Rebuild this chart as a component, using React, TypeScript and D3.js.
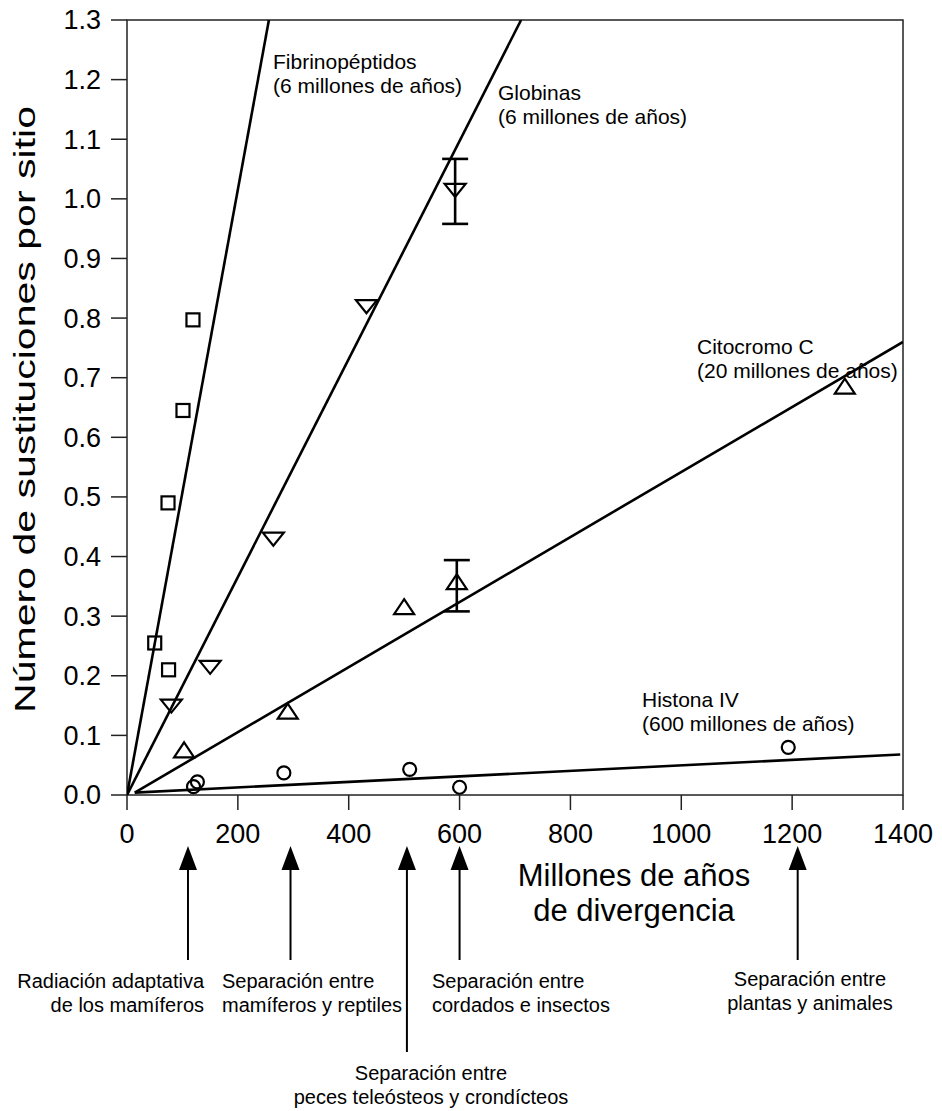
import React from "react";
import * as d3 from "d3";

// Points: [millones de años, sustituciones por sitio]
const fibrinopeptidos: [number, number][] = [
  [50, 0.255],
  [75, 0.21],
  [74, 0.49],
  [101, 0.645],
  [119, 0.797],
];
const globinas: [number, number][] = [
  [80, 0.15],
  [150, 0.215],
  [264, 0.43],
  [432, 0.82],
  [592, 1.015],
];
const citocromo: [number, number][] = [
  [103, 0.075],
  [290, 0.14],
  [500, 0.315],
  [595, 0.357],
  [1295, 0.685],
];
const histona: [number, number][] = [
  [120, 0.014],
  [127, 0.022],
  [283, 0.037],
  [510, 0.043],
  [600, 0.013],
  [1193, 0.08],
];

// error bars: [x, low, high]
const errorBars: [number, number, number][] = [
  [592, 0.958, 1.067],
  [595, 0.308, 0.394],
];

// fitted lines (end points)
const fitLines: [number, number][][] = [
  [[0, 0], [256, 1.3]],
  [[0, 0], [711, 1.3]],
  [[14, 0.004], [1400, 0.76]],
  [[14, 0.004], [1395, 0.068]],
];

const xTicks = [0, 200, 400, 600, 800, 1000, 1200, 1400];
const yTicks = [0, 0.1, 0.2, 0.3, 0.4, 0.5, 0.6, 0.7, 0.8, 0.9, 1.0, 1.1, 1.2, 1.3];

const seriesLabels = [
  ["Fibrinopéptidos", "(6 millones de años)"],
  ["Globinas", "(6 millones de años)"],
  ["Citocromo C", "(20 millones de años)"],
  ["Histona IV", "(600 millones de años)"],
];

const eventX = [110, 295, 505, 600, 1210];
const eventLabels = [
  ["Radiación adaptativa", "de los mamíferos"],
  ["Separación entre", "mamíferos y reptiles"],
  ["Separación entre", "peces teleósteos y crondícteos"],
  ["Separación entre", "cordados e insectos"],
  ["Separación entre", "plantas y animales"],
];

const xTitle = ["Millones de años", "de divergencia"];
const yTitle = "Número de sustituciones por sitio";

const FONT = "'Liberation Sans', Arial, Helvetica, sans-serif";

// layout
const W = 942;
const H = 1111;
const left = 127;
const right = 903;
const top = 20;
const bottom = 795;

// series label placement (px)
const seriesLabelPos = [
  { x: 273, y: 69 },
  { x: 498, y: 100 },
  { x: 697, y: 354 },
  { x: 642, y: 707 },
];
// event label placement
const eventLabelPos = [
  { x: 204, y: 988, anchor: "end" },
  { x: 222, y: 988, anchor: "start" },
  { x: 431, y: 1080, anchor: "middle" },
  { x: 432, y: 988, anchor: "start" },
  { x: 810, y: 986, anchor: "middle" },
];
const eventShaftEnd = [960, 960, 1052, 960, 960];

export default function App() {
  const x = d3.scaleLinear().domain([0, 1400]).range([left, right]);
  const y = d3.scaleLinear().domain([0, 1.3]).range([bottom, top]);
  const line = d3
    .line<[number, number]>()
    .x((d) => x(d[0]))
    .y((d) => y(d[1]));

  const sq = 6.5;
  const lw = 2.6;

  return (
    <svg
      width={W}
      height={H}
      style={{ position: "absolute", left: 0, top: 0, background: "#fff" }}
      fontFamily={FONT}
    >
      <defs>
        <clipPath id="plot">
          <rect x={left} y={top} width={right - left} height={bottom - top} />
        </clipPath>
      </defs>

      {/* frame */}
      <rect
        x={left}
        y={top}
        width={right - left}
        height={bottom - top}
        fill="none"
        stroke="#222"
        strokeWidth={1.5}
      />

      {/* y ticks */}
      {yTicks.map((t) => (
        <g key={"y" + t}>
          <line x1={left - 16} x2={left} y1={y(t)} y2={y(t)} stroke="#222" strokeWidth={1.5} />
          <text x={left - 26} y={y(t)} dy="0.35em" fontSize={27} textAnchor="end">
            {t.toFixed(1)}
          </text>
        </g>
      ))}

      {/* x ticks */}
      {xTicks.map((t) => (
        <g key={"x" + t}>
          <line x1={x(t)} x2={x(t)} y1={bottom} y2={bottom + 15} stroke="#222" strokeWidth={1.5} />
          <text x={x(t)} y={843} fontSize={27} textAnchor="middle">
            {t}
          </text>
        </g>
      ))}

      {/* fitted lines */}
      <g clipPath="url(#plot)">
        {fitLines.map((l, i) => (
          <path key={i} d={line(l) || ""} fill="none" stroke="#000" strokeWidth={lw} />
        ))}
      </g>

      {/* error bars */}
      {errorBars.map(([ex, lo, hi], i) => (
        <g key={"e" + i} stroke="#000" strokeWidth={lw}>
          <line x1={x(ex)} x2={x(ex)} y1={y(lo)} y2={y(hi)} />
          <line x1={x(ex) - 13} x2={x(ex) + 13} y1={y(lo)} y2={y(lo)} />
          <line x1={x(ex) - 13} x2={x(ex) + 13} y1={y(hi)} y2={y(hi)} />
        </g>
      ))}

      {/* markers */}
      <g fill="none" stroke="#000" strokeWidth={2.2}>
        {fibrinopeptidos.map((d, i) => (
          <rect key={"f" + i} x={x(d[0]) - sq} y={y(d[1]) - sq} width={sq * 2} height={sq * 2} />
        ))}
        {globinas.map((d, i) => {
          const cx = x(d[0]);
          const cy = y(d[1]);
          return (
            <path
              key={"g" + i}
              d={`M${cx - 10.5},${cy - 6}L${cx + 10.5},${cy - 6}L${cx},${cy + 7}Z`}
            />
          );
        })}
        {citocromo.map((d, i) => {
          const cx = x(d[0]);
          const cy = y(d[1]);
          return (
            <path
              key={"c" + i}
              d={`M${cx},${cy - 8}L${cx + 10},${cy + 7}L${cx - 10},${cy + 7}Z`}
            />
          );
        })}
        {histona.map((d, i) => (
          <circle key={"h" + i} cx={x(d[0])} cy={y(d[1])} r={6.5} />
        ))}
      </g>

      {/* series labels */}
      {seriesLabels.map((lines, i) => (
        <text key={"s" + i} fontSize={21} fill="#000">
          {lines.map((t, j) => (
            <tspan key={j} x={seriesLabelPos[i].x} y={seriesLabelPos[i].y + j * 24}>
              {t}
            </tspan>
          ))}
        </text>
      ))}

      {/* axis titles */}
      <text fontSize={31} textAnchor="middle">
        {xTitle.map((t, j) => (
          <tspan key={j} x={634} y={886 + j * 35}>
            {t}
          </tspan>
        ))}
      </text>
      <text
        transform={`translate(35,${(bottom + top) / 2 + 2}) rotate(-90)`}
        fontSize={30}
        textAnchor="middle"
        textLength={607}
        lengthAdjust="spacingAndGlyphs"
      >
        {yTitle}
      </text>

      {/* event arrows */}
      {eventX.map((ev, i) => {
        const ax = x(ev);
        return (
          <g key={"a" + i}>
            <line x1={ax} x2={ax} y1={866} y2={eventShaftEnd[i]} stroke="#000" strokeWidth={2} />
            <path d={`M${ax},846L${ax + 9},870L${ax - 9},870Z`} fill="#000" />
          </g>
        );
      })}
      {eventLabels.map((lines, i) => (
        <text
          key={"l" + i}
          fontSize={20}
          textAnchor={eventLabelPos[i].anchor as any}
          fill="#000"
        >
          {lines.map((t, j) => (
            <tspan key={j} x={eventLabelPos[i].x} y={eventLabelPos[i].y + j * 24}>
              {t}
            </tspan>
          ))}
        </text>
      ))}
    </svg>
  );
}
